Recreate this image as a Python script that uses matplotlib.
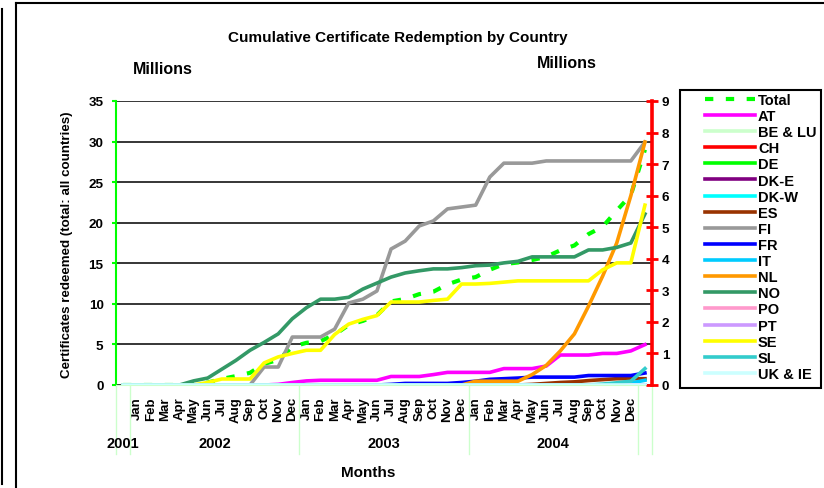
import matplotlib
matplotlib.use('Agg')
import matplotlib.pyplot as plt
from matplotlib.lines import Line2D
from matplotlib.patches import Rectangle
import numpy as np

plt.rcParams['font.family'] = ['Liberation Sans', 'DejaVu Sans']
plt.rcParams['font.weight'] = 'bold'

W, H = 824, 489
def fx(px): return px / W
def fy(py): return 1 - py / H

# ---------------- data ----------------
month_names = ['Jan', 'Feb', 'Mar', 'Apr', 'May', 'Jun', 'Jul', 'Aug', 'Sep', 'Oct', 'Nov', 'Dec']
months = [''] + month_names * 3 + ['']
years = ['2001', '2002', '2003', '2004']

total = [0, 0, 0, 0, 0, 0.15, 0.3, 0.75, 1.1, 1.5, 2.6, 3.1, 4.7, 5.2, 5.4, 6.2, 7.4, 7.9, 8.6,
         10.3, 10.6, 11.2, 11.5, 12.4, 13.0, 13.3, 14.2, 14.9, 15.1, 15.4, 15.8, 16.6, 17.2, 18.6,
         19.5, 21.5, 23.4, 29.0]
at = [0] * 11 + [0.02, 0.08, 0.13, 0.15, 0.15, 0.15, 0.15, 0.15, 0.27, 0.27, 0.27, 0.33, 0.4, 0.4,
                 0.4, 0.4, 0.52, 0.52, 0.52, 0.6, 0.95, 0.95, 0.95, 1.0, 1.0, 1.08, 1.28]
be_lu = [0] * 38
ch = [0] * 38
de = [0] * 38
dk_e = [0] * 38
dk_w = [0] * 38
es = [0] * 29 + [0.02, 0.05, 0.08, 0.1, 0.14, 0.17, 0.2, 0.2, 0.2]
fi = [0] * 10 + [0.57, 0.57, 1.52, 1.52, 1.52, 1.77, 2.6, 2.72, 2.98, 4.31, 4.56, 5.04, 5.2, 5.58,
                 5.64, 5.7, 6.59, 7.03, 7.03, 7.03, 7.1, 7.1, 7.1, 7.1, 7.1, 7.1, 7.1, 7.7]
fr = [0] * 19 + [0.02, 0.05, 0.05, 0.05, 0.05, 0.08, 0.12, 0.18, 0.2, 0.22, 0.25, 0.25, 0.25, 0.25,
                 0.3, 0.3, 0.3, 0.3, 0.38]
it = [0] * 35 + [0.03, 0.06, 0.15]
nl = [0] * 25 + [0.12, 0.12, 0.12, 0.12, 0.33, 0.62, 1.08, 1.62, 2.5, 3.45, 4.5, 6.0, 7.7]
no = [0, 0, 0, 0, 0, 0.13, 0.22, 0.5, 0.78, 1.1, 1.35, 1.62, 2.1, 2.45, 2.72, 2.72, 2.78, 3.04,
      3.23, 3.42, 3.55, 3.62, 3.68, 3.68, 3.72, 3.78, 3.8, 3.87, 3.92, 4.06, 4.06, 4.06, 4.06,
      4.28, 4.28, 4.36, 4.5, 5.42]
po = [0] * 38
pt = [0] * 38
se = [0] * 6 + [0.08, 0.19, 0.19, 0.19, 0.7, 0.89, 1.0, 1.1, 1.1, 1.6, 1.93, 2.08, 2.2, 2.63, 2.63,
                2.63, 2.68, 2.72, 3.2, 3.2, 3.22, 3.26, 3.3, 3.3, 3.3, 3.3, 3.3, 3.3, 3.65, 3.87,
                3.87, 5.7]
sl = [0] * 34 + [0.03, 0.07, 0.12, 0.52]
uk_ie = [0] * 38

country_names = ['AT', 'BE & LU', 'CH', 'DE', 'DK-E', 'DK-W', 'ES', 'FI', 'FR', 'IT', 'NL', 'NO',
                 'PO', 'PT', 'SE', 'SL', 'UK & IE']
country_values = [at, be_lu, ch, de, dk_e, dk_w, es, fi, fr, it, nl, no, po, pt, se, sl, uk_ie]
country_colors = ['#FF00FF', '#CCFFCC', '#FF0000', '#00FF00', '#800080', '#00FFFF', '#993300',
                  '#999999', '#0000FF', '#00CCFF', '#FF9900', '#339966', '#FF99CC', '#CC99FF',
                  '#FFFF00', '#33CCCC', '#CCFFFF']

x = np.arange(len(months))

# ---------------- figure ----------------
fig = plt.figure(figsize=(W / 100, H / 100), dpi=100)
ax = fig.add_axes([fx(116), fy(386), 536 / W, 284 / H])
ax2 = ax.twinx()

ax.set_xlim(-0.5, len(months) - 0.5)
ax.set_ylim(0, 35)
ax2.set_ylim(0, 9)
ax.set_yticks(range(0, 36, 5))
ax2.set_yticks(range(0, 10))
ax.yaxis.grid(True, color='black', lw=1.1)
ax.set_axisbelow(True)

h_total, = ax.plot(x, total, color='#00FF00', lw=3, dashes=(2, 3), label='Total', zorder=3)
handles = [h_total]
for name, vals, col in zip(country_names, country_values, country_colors):
    h, = ax2.plot(x, vals, color=col, lw=2.6, label=name, solid_joinstyle='round')
    handles.append(h)

# spines
for s in ['top', 'right']:
    ax.spines[s].set_visible(False)
ax.spines['left'].set_color('#00FF00')
ax.spines['left'].set_linewidth(1.5)
ax.spines['bottom'].set_color('#CCFFCC')
for s in ['top', 'left', 'bottom']:
    ax2.spines[s].set_visible(False)
ax2.spines['right'].set_color('#FF0000')
ax2.spines['right'].set_linewidth(2.6)

ax.tick_params(axis='y', color='#00FF00', length=3, width=1.5, labelsize=9.7, pad=6)
ax2.tick_params(axis='y', direction='inout', color='#FF0000', length=8, width=2,
                labelsize=9.7, pad=3)

ax.set_xticks(x)
ax.set_xticklabels(months, rotation=90, fontsize=9.5, va='top')
ax.tick_params(axis='x', length=0, pad=8)

# category group separators and years
xt = ax.get_xaxis_transform()
for b in [-0.5, 0.5, 12.5, 24.5, 36.5, 37.5]:
    ax.plot([b, b], [0, -0.243], transform=xt, color='#CCFFCC', lw=1, clip_on=False)
for c, yr in zip([0, 6.5, 18.5, 30.5], years):
    ax.text(c, -0.205, yr, transform=xt, ha='center', va='center', fontsize=10.5)

# texts
fig.text(fx(398), fy(38), 'Cumulative Certificate Redemption by Country', ha='center',
         va='center', fontsize=11)
fig.text(fx(163), fy(70), 'Millions', ha='center', va='center', fontsize=11.5)
fig.text(fx(567), fy(64), 'Millions', ha='center', va='center', fontsize=11.5)
fig.text(fx(67), fy(245), 'Certificates redeemed (total: all countries)', ha='center',
         va='center', rotation=90, fontsize=9.6)
fig.text(fx(368), fy(473), 'Months', ha='center', va='center', fontsize=11)

# legend
fig.legend(handles, ['Total'] + country_names, loc='upper left',
           bbox_to_anchor=(fx(705), fy(94)), frameon=False, borderaxespad=0, borderpad=0,
           handlelength=3.43, handletextpad=0.2, labelspacing=0.145,
           prop={'size': 10.5, 'weight': 'bold'})
fig.add_artist(Rectangle((fx(680), fy(389)), (821 - 680) / W, (389 - 91) / H,
                         transform=fig.transFigure, fill=False, ec='black', lw=1.5))

# outer frame lines
fig.add_artist(Line2D([fx(16), fx(16)], [fy(4), 0], color='black', lw=1.5))
fig.add_artist(Line2D([fx(16), 1], [fy(4), fy(4)], color='black', lw=1.5))
fig.add_artist(Line2D([fx(2), fx(2)], [fy(10), fy(485)], color='black', lw=1.5))

fig.savefig('out.png', dpi=100)
